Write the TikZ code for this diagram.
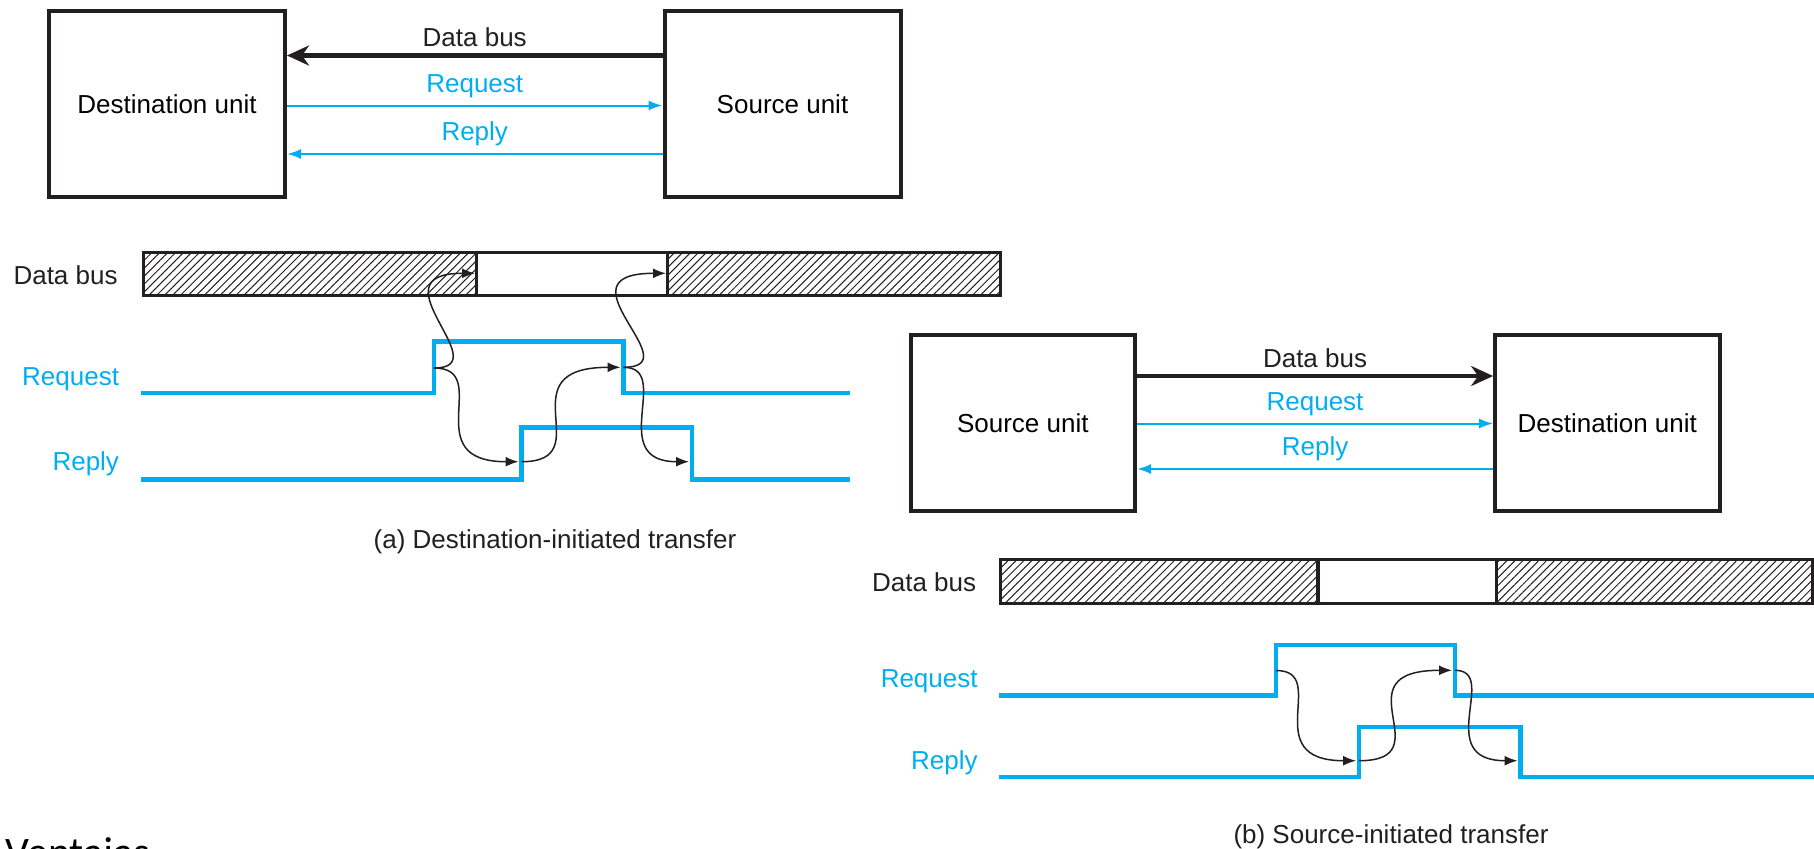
\documentclass[tikz,border=0pt]{standalone}
\usepackage{fontspec}
\setmainfont{Liberation Sans}
\newfontfamily\slidefont{Carlito}
\usetikzlibrary{arrows.meta,patterns.meta}
\definecolor{sigblue}{RGB}{0,174,239}
\definecolor{ink}{RGB}{35,31,32}
\tikzset{
  unit/.style={
    draw=ink,
    line width=2pt,
    minimum width=118pt,
    minimum height=93pt,
    inner sep=0pt,
    font=\fontsize{13}{15}\selectfont
  },
  unitb/.style={unit, minimum width=112.2pt, minimum height=87.7pt},
  lbl/.style={font=\fontsize{13}{15}\selectfont, inner sep=0pt, anchor=base, text=ink},
  siglbl/.style={lbl, anchor=base east, text=sigblue},
  buslink/.style={draw=ink, line width=2.3pt, -{Stealth[length=11pt,width=10pt,inset=3.5pt]}},
  hslink/.style={draw=sigblue, line width=1pt, -{Latex[length=7pt,width=5pt]}},
  signal/.style={draw=sigblue, line width=2.2pt},
  busbar/.style={draw=ink, line width=1.7pt},
  hatch/.style={pattern={Lines[angle=45,distance=2.8pt,line width=0.5pt]}, pattern color=ink},
  cause/.style={draw=ink, line width=0.75pt, -{Latex[length=6.5pt,width=5pt]}},
}

\begin{document}
\begin{tikzpicture}[x=0.5pt, y=0.5pt]
  \useasboundingbox (0,0) rectangle (1814,-848);

  % (a) destination-initiated: units
  \node[unit] (dstA) at (167,-104) {Destination unit};
  \node[unit] (srcA) at (782.5,-104) {Source unit};
  \draw[buslink] (srcA.west |- 0,-55.5) -- node[lbl, above=3pt] (lbBusA) {Data bus} (dstA.east |- 0,-55.5);
  \draw[hslink] (dstA.east |- 0,-105.5) -- node[lbl, above=3.5pt, text=sigblue] (lbReqA) {Request} (srcA.west |- 0,-105.5);
  \draw[hslink] (srcA.west |- 0,-154) -- node[lbl, above=3.5pt, text=sigblue] (lbRepA) {Reply} (dstA.east |- 0,-154);

  % (a) timing
  \node[lbl, anchor=base east] (tBusA) at (118,-284) {Data bus};
  \node[siglbl] (tReqA) at (119.4,-385) {Request};
  \node[siglbl] (tRepA) at (119.4,-470) {Reply};
  \fill[hatch] (143.7,-252.7) rectangle (476.5,-295.3);
  \fill[hatch] (667.6,-252.7) rectangle (1000.3,-295.3);
  \draw[busbar] (143.7,-252.7) rectangle (1000.3,-295.3);
  \draw[busbar] (476.5,-252.7) -- (476.5,-295.3);
  \draw[busbar] (667.6,-252.7) -- (667.6,-295.3);
  \draw[signal] (140.6,-393) -- (434,-393) -- (434,-341.5) -- (623.5,-341.5) -- (623.5,-393) -- (849.6,-393);
  \draw[signal] (140.6,-479.5) -- (521.5,-479.5) -- (521.5,-427.5) -- (692,-427.5) -- (692,-479.5) -- (849.6,-479.5);
  \coordinate (aRqUp) at (434,-368);
  \coordinate (aRqDn) at (623.5,-367.3);
  \coordinate (aRpUp) at (521.5,-461.7);
  \coordinate (aRpDn) at (692,-461.7);
  \coordinate (aBus1) at (475,-273.3);
  \coordinate (aBus2) at (666,-273.3);
  \draw[cause] (aRqUp) .. controls +(65,0) and +(-104,0) .. (aBus1);
  \draw[cause] (aRqUp) .. controls +(60,0) and +(-103,0) .. ([xshift=-1.5pt]aRpUp);
  \draw[cause] (aRpUp) .. controls +(80,0) and +(-117,0) .. ([xshift=-1.5pt]aRqDn);
  \draw[cause] (aRqDn) .. controls +(69,0) and +(-113,0) .. (aBus2);
  \draw[cause] (aRqDn) .. controls +(50,0) and +(-84,0) .. ([xshift=-1.5pt]aRpDn);
  \node[lbl] (capA) at (555,-548) {(a) Destination-initiated transfer};

  % (b) source-initiated: units
  \node[unitb] (srcB) at (1022.8,-423) {Source unit};
  \node[unitb] (dstB) at (1607.3,-423) {Destination unit};
  \draw[buslink] (srcB.east |- 0,-376) -- node[lbl, above=3pt] (lbBusB) {Data bus} (dstB.west |- 0,-376);
  \draw[hslink] (srcB.east |- 0,-423.5) -- node[lbl, above=3.5pt, text=sigblue] (lbReqB) {Request} (dstB.west |- 0,-423.5);
  \draw[hslink] (dstB.west |- 0,-469) -- node[lbl, above=3.5pt, text=sigblue] (lbRepB) {Reply} (srcB.east |- 0,-469);

  % (b) timing
  \node[lbl, anchor=base east] (tBusB) at (976.5,-591) {Data bus};
  \node[siglbl] (tReqB) at (978,-687) {Request};
  \node[siglbl] (tRepB) at (978,-769) {Reply};
  \fill[hatch] (1000.7,-559.7) rectangle (1317.8,-603.3);
  \fill[hatch] (1496.5,-559.7) rectangle (1812.3,-603.3);
  \draw[busbar] (1000.7,-559.7) rectangle (1812.3,-603.3);
  \draw[busbar] (1317.8,-559.7) -- (1317.8,-603.3);
  \draw[busbar] (1496.5,-559.7) -- (1496.5,-603.3);
  \draw[signal] (999,-695.5) -- (1276,-695.5) -- (1276,-645) -- (1455,-645) -- (1455,-695.5) -- (1814,-695.5);
  \draw[signal] (999,-777) -- (1359,-777) -- (1359,-726.7) -- (1520.5,-726.7) -- (1520.5,-777) -- (1814,-777);
  \coordinate (bRqUp) at (1276,-670.5);
  \coordinate (bRqDn) at (1455,-670.3);
  \coordinate (bRpUp) at (1359,-760.7);
  \coordinate (bRpDn) at (1520.5,-760.7);
  \draw[cause] (bRqUp) .. controls +(55,0) and +(-100,0) .. ([xshift=-1.5pt]bRpUp);
  \draw[cause] (bRpUp) .. controls +(86,0) and +(-116,0) .. ([xshift=-1.5pt]bRqDn);
  \draw[cause] (bRqDn) .. controls +(45,0) and +(-86,0) .. ([xshift=-1.5pt]bRpDn);
  \node[lbl] (capB) at (1391,-843) {(b) Source-initiated transfer};

  \node[font=\slidefont\fontsize{21}{25}\selectfont, anchor=base west, inner sep=0pt] (vent) at (5,-866) {Ventajas};
\end{tikzpicture}
\end{document}
